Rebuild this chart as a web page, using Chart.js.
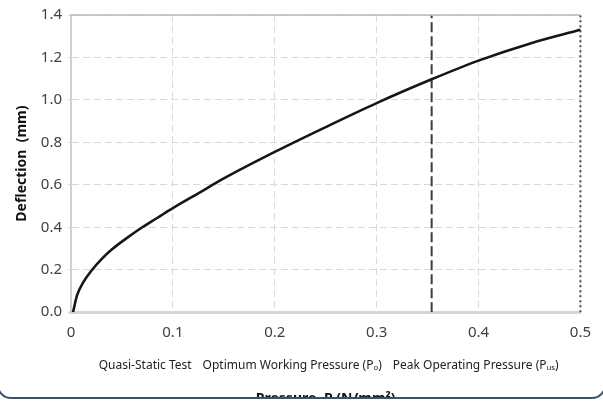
<!DOCTYPE html>
<html><head><meta charset="utf-8">
<script src="https://cdn.jsdelivr.net/npm/chart.js@4/dist/chart.umd.min.js"></script>
<style>
html,body{margin:0;padding:0;background:#fff;overflow:hidden;}
#wrap{position:relative;width:603px;height:401px;overflow:hidden;}
#box{position:absolute;left:0;top:0;width:603px;height:413px;}
#frame{position:absolute;left:-3px;top:-30px;width:605px;height:425px;border:2px solid #3f5069;border-radius:14px;pointer-events:none;}
#cover{position:absolute;left:0;top:399px;width:603px;height:10px;background:#fff;}
</style></head>
<body>
<div id="wrap">
<div id="box"><canvas id="c" width="603" height="413" style="width:603px;height:413px;"></canvas></div>
<div id="cover"></div>
<div id="frame"></div>
</div>
<script>
const pressure = [0.002, 0.006, 0.012, 0.02, 0.03, 0.04, 0.055, 0.07, 0.085, 0.1, 0.125, 0.15, 0.2, 0.25, 0.3, 0.354, 0.4, 0.45, 0.5];
const deflection = [0, 0.08, 0.14, 0.195, 0.25, 0.295, 0.35, 0.40, 0.445, 0.49, 0.56, 0.63, 0.755, 0.872, 0.985, 1.097, 1.185, 1.265, 1.33];
const optimumP = 0.354;
const peakP = 0.5;
const lineSpan = [0, 1.4];
const seriesNames = ['Quasi-Static Test', 'Optimum Working Pressure (P\u2092)', 'Peak Operating Pressure (P\u1d64\u209b)'];
const xTitle = 'Pressure, P (N/mm\u00b2)';
const yTitle = 'Deflection  (mm)';

const fontFam = '"Noto Sans", "Open Sans", sans-serif';

const topBorder = {
  id: 'topBorder',
  afterDraw(chart) {
    const a = chart.chartArea, ctx = chart.ctx;
    ctx.save();
    ctx.strokeStyle = '#b8b8b8';
    ctx.lineWidth = 1.5;
    ctx.beginPath();
    ctx.moveTo(a.left, a.top);
    ctx.lineTo(a.right, a.top);
    ctx.stroke();
    ctx.restore();
  }
};

new Chart(document.getElementById('c'), {
  type: 'scatter',
  data: {
    datasets: [
      {
        label: seriesNames[0],
        data: pressure.map((p, i) => ({x: p, y: deflection[i]})),
        showLine: true,
        borderColor: '#161616',
        borderWidth: 2.6,
        pointRadius: 0,
        cubicInterpolationMode: 'monotone',
        fill: false
      },
      {
        label: seriesNames[1],
        data: lineSpan.map(v => ({x: optimumP, y: v})),
        showLine: true,
        borderColor: '#3c3c3c',
        borderWidth: 2,
        borderDash: [10, 4],
        pointRadius: 0
      },
      {
        label: seriesNames[2],
        data: lineSpan.map(v => ({x: peakP, y: v})),
        showLine: true,
        borderColor: '#4a4a4a',
        borderWidth: 2,
        borderDash: [2, 3],
        pointRadius: 0,
        clip: false
      }
    ]
  },
  plugins: [topBorder],
  options: {
    responsive: false,
    maintainAspectRatio: false,
    animation: false,
    devicePixelRatio: 1,
    layout: {padding: {top: 6, right: 20, left: 14, bottom: 0}},
    plugins: {
      legend: {
        position: 'bottom',
        fullSize: false,
        labels: {
          boxWidth: 0,
          boxHeight: 0,
          padding: 5,
          color: '#222',
          font: {family: fontFam, size: 12}
        }
      },
      title: {
        display: true,
        position: 'bottom',
        fullSize: false,
        text: xTitle,
        color: '#111',
        font: {family: fontFam, size: 14, weight: 'bold'},
        padding: {top: 9, bottom: 6}
      },
      tooltip: {enabled: false}
    },
    scales: {
      x: {
        type: 'linear',
        min: 0, max: 0.5,
        ticks: {
          stepSize: 0.1,
          color: '#404040',
          font: {family: fontFam, size: 15},
          padding: 12,
          callback: v => v === 0 ? '0' : v.toFixed(1)
        },
        grid: {color: '#dadada', lineWidth: 1, drawTicks: false},
        border: {display: true, color: '#d6d6d6', width: 3, dash: [7, 4]}
      },
      y: {
        min: 0, max: 1.4,
        ticks: {
          stepSize: 0.2,
          color: '#404040',
          font: {family: fontFam, size: 15},
          padding: 6,
          callback: v => v.toFixed(1)
        },
        grid: {color: '#dadada', lineWidth: 1, tickLength: 3, tickColor: '#dadada'},
        border: {display: true, color: '#d0d0d0', width: 2, dash: [7, 4]},
        title: {
          display: true,
          text: yTitle,
          color: '#111',
          font: {family: fontFam, size: 14, weight: 'bold'},
          padding: {top: 0, bottom: 4}
        }
      }
    }
  }
});
</script>
</body></html>
